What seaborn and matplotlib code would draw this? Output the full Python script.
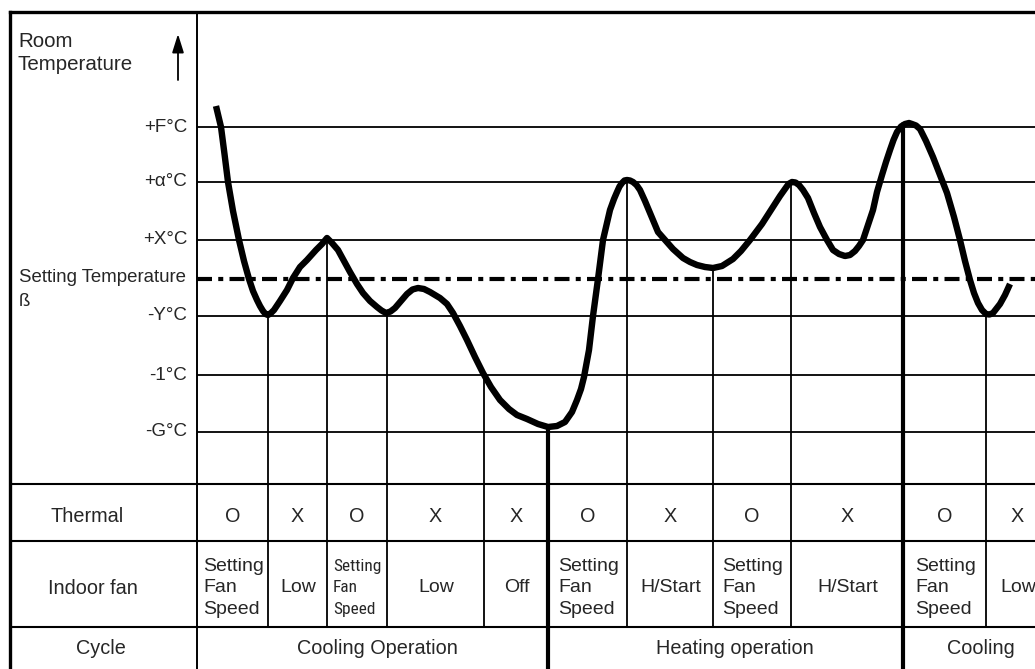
import matplotlib
matplotlib.use('Agg')
import matplotlib.pyplot as plt
from matplotlib import font_manager
import seaborn as sns

sns.set_theme(style='white')
plt.rcParams['font.family'] = ['Liberation Sans', 'DejaVu Sans']

# temperature levels (arbitrary units, schematic)
level_labels = ['+F°C', '+α°C', '+X°C', '-Y°C', '-1°C', '-G°C']
level_values = [35.7, 30.2, 24.4, 16.8, 10.9, 5.2]
setting_temp = 20.5

# room temperature curve (time, temperature)
curve_t = [1.9, 2.4, 2.75, 3.1, 3.6, 4.2, 4.7, 5.2, 5.6, 6.0, 6.3, 6.6, 6.85, 7.1, 7.4, 7.7,
           8.3, 9.0, 9.6, 10.3, 11.0, 11.9, 12.5, 13.0, 13.5,
           14.1, 14.7, 15.3, 16.0, 16.6, 17.3, 18.0, 18.45, 18.9, 19.35, 19.8, 20.4, 21.0, 21.55,
           22.1, 22.7, 23.3, 24.3, 25.0, 25.6, 26.3, 27.0, 27.8,
           28.6, 29.4, 30.3, 31.2, 32.0, 33.0, 34.1, 35.1, 36.0, 36.8, 37.5, 38.0, 38.4, 38.7, 39.2,
           39.6, 40.1, 40.6, 41.3, 41.7, 42.0, 42.25, 42.5, 42.75, 43.0, 43.3, 43.6, 43.95, 44.3,
           44.8, 45.3, 46.1, 46.8, 47.6, 48.6, 49.3, 50.0, 50.8, 51.6, 52.5, 53.6, 54.4, 55.3,
           56.5, 57.6, 58.3, 58.8, 59.15, 59.5, 59.85, 60.2, 60.6, 61.1, 61.7, 62.3,
           63.0, 63.6, 64.2, 64.8, 65.3, 65.8, 66.2, 66.6, 67.1, 67.6, 68.0, 68.5, 68.9, 69.3,
           69.65, 70.0, 70.4, 70.8, 71.2, 71.5, 71.9, 72.3, 72.9, 73.6, 74.3,
           75.0, 75.7, 76.3, 76.8, 77.3, 77.7, 78.1, 78.5, 78.9, 79.25, 79.6, 80.3, 80.8, 81.3]
curve_temp = [37.8, 35.7, 33.0, 30.2, 27.3, 24.4, 22.3, 20.5, 19.3, 18.4, 17.8, 17.3, 17.0, 16.9, 17.1, 17.4,
              18.3, 19.4, 20.6, 21.7, 22.4, 23.4, 24.0, 24.6, 24.1,
              23.4, 22.3, 21.2, 20.0, 19.1, 18.3, 17.7, 17.35, 17.1, 17.25, 17.6, 18.3, 19.0, 19.45,
              19.6, 19.5, 19.2, 18.6, 18.0, 17.1, 15.8, 14.4, 12.7,
              11.1, 9.7, 8.4, 7.5, 6.9, 6.5, 6.0, 5.7, 5.8, 6.2, 7.2, 8.4, 9.5, 10.7, 13.4,
              16.8, 20.5, 24.4, 27.4, 28.5, 29.2, 29.75, 30.1, 30.35, 30.4, 30.35, 30.2, 29.9, 29.4,
              28.3, 27.1, 25.2, 24.4, 23.5, 22.6, 22.2, 21.9, 21.7, 21.6, 21.8, 22.5, 23.3, 24.4,
              26.0, 27.7, 28.8, 29.5, 30.0, 30.2, 30.15, 29.9, 29.4, 28.6, 27.1, 25.7,
              24.4, 23.4, 23.0, 22.8, 22.9, 23.3, 23.8, 24.4, 25.9, 27.4, 29.2, 30.9, 32.2, 33.4,
              34.4, 35.2, 35.75, 36.0, 36.1, 36.0, 35.85, 35.5, 34.3, 32.7, 30.9,
              29.1, 26.7, 24.4, 22.3, 20.4, 19.1, 18.1, 17.4, 17.0, 16.95, 17.1, 18.0, 18.9, 20.0]

# switching points: thermal on/off and cycle changes
event_t = [7.1, 13.0, 19.0, 28.7, 35.1, 43.0, 51.6, 59.4, 70.6, 78.9]
event_temp = [16.8, 24.6, 17.1, 10.9, 5.7, 30.4, 21.6, 30.2, 36.0, 17.0]
cycle_change = [False, False, False, False, True, False, False, False, True, False]

thermal = ['O', 'X', 'O', 'X', 'X', 'O', 'X', 'O', 'X', 'O', 'X']
indoor_fan = ['Setting\nFan\nSpeed', 'Low', 'Setting\nFan\nSpeed', 'Low', 'Off',
              'Setting\nFan\nSpeed', 'H/Start', 'Setting\nFan\nSpeed', 'H/Start',
              'Setting\nFan\nSpeed', 'Low']
cycles = ['Cooling Operation', 'Heating operation', 'Cooling']

# layout
x_left, x_right = -19.7, 83.8
y_bot, y_top = -18.5, 48.4
frame_x, frame_top = -18.7, 47.2
row_lines = [0, -5.7, -14.3]
row_mid = {'Thermal': -3.2, 'Indoor fan': -10.4, 'Cycle': -16.4}

fig = plt.figure(figsize=(10.35, 6.69), dpi=100)
ax = fig.add_axes([0, 0, 1, 1])
ax.set_xlim(x_left, x_right)
ax.set_ylim(y_bot, y_top)
ax.axis('off')

# frame
ax.plot([frame_x, x_right], [frame_top, frame_top], color='black', lw=2.4, solid_capstyle='projecting')
ax.plot([frame_x, frame_x], [frame_top, y_bot], color='black', lw=2.4, solid_capstyle='projecting')
ax.plot([0, 0], [frame_top, y_bot], color='black', lw=1.4)

# level lines and labels
ax.hlines(level_values, 0, x_right, color='black', lw=1.3)
for lab, v in zip(level_labels, level_values):
    ax.text(-1.0, v, lab, ha='right', va='center', fontsize=13.5)
ax.plot([0, x_right], [setting_temp, setting_temp], color='black', lw=3.0,
        dashes=(3.6, 1.5, 1.2, 1.5))
ax.text(-17.8, 20.7, 'Setting Temperature', ha='left', va='center', fontsize=13.4)
ax.text(-17.8, 18.3, 'ß', ha='left', va='center', fontsize=13.4)
ax.text(-17.9, 43.1, 'Room\nTemperature', ha='left', va='center', fontsize=14.8, linespacing=1.25)
ax.annotate('', xy=(-1.9, 45.0), xytext=(-1.9, 40.4),
            arrowprops=dict(arrowstyle='-|>,head_width=0.22,head_length=0.7',
                            color='black', lw=1.3, mutation_scale=16, shrinkA=0, shrinkB=0))

# vertical switching lines
for t, v, thick in zip(event_t, event_temp, cycle_change):
    if thick:
        ax.plot([t, t], [v, y_bot], color='black', lw=3.0)
    else:
        ax.plot([t, t], [v, row_lines[2]], color='black', lw=1.3)

# curve
sns.lineplot(x=curve_t, y=curve_temp, sort=False, estimator=None, color='black',
             lw=4.6, ax=ax, solid_joinstyle='round', solid_capstyle='butt')

# table
ax.hlines(row_lines, frame_x, x_right, color='black', lw=1.5)
ax.text(-11.0, row_mid['Thermal'], 'Thermal', ha='center', va='center', fontsize=14.3)
ax.text(-10.4, row_mid['Indoor fan'], 'Indoor fan', ha='center', va='center', fontsize=14.3)
ax.text(-9.6, row_mid['Cycle'], 'Cycle', ha='center', va='center', fontsize=14.3)

# a condensed face for the narrow column, if one is installed
narrow_font = None
for f in font_manager.fontManager.ttflist:
    st = f.stretch
    is_cond = ('Narrow' in f.name or 'Condensed' in f.name or
               st in ('condensed', 'semi-condensed', 'extra-condensed') or
               (isinstance(st, int) and st < 100))
    if is_cond and f.style == 'normal' and f.weight in (400, 'normal', 'regular'):
        if narrow_font is None or 'Liberation' in f.name or 'Roboto' in f.name:
            narrow_font = f.fname

bounds = [0] + event_t + [85.2]
for i in range(len(thermal)):
    c = (bounds[i] + bounds[i + 1]) / 2
    ax.text(c, row_mid['Thermal'], thermal[i], ha='center', va='center', fontsize=14.3)
    fan = indoor_fan[i]
    if i == 2:
        if narrow_font:
            fp = font_manager.FontProperties(fname=narrow_font, size=12.4)
        else:
            fp = font_manager.FontProperties(family='Liberation Sans', size=11.5)
        ax.text(c, row_mid['Indoor fan'], fan, ha='center', va='center',
                multialignment='left', linespacing=1.55, fontproperties=fp)
    else:
        ax.text(c + 0.1, row_mid['Indoor fan'], fan, ha='center', va='center',
                multialignment='left', linespacing=1.35, fontsize=14.0)

cyc_bounds = [0] + [t for t, f in zip(event_t, cycle_change) if f] + [85.2]
for i, name in enumerate(cycles):
    c = (cyc_bounds[i] + cyc_bounds[i + 1]) / 2 + (0.9 if i == 1 else 0.5)
    ax.text(c, row_mid['Cycle'], name, ha='center', va='center', fontsize=14.3)

fig.savefig('out.png', dpi=100, facecolor='white')
plt.close('all')
